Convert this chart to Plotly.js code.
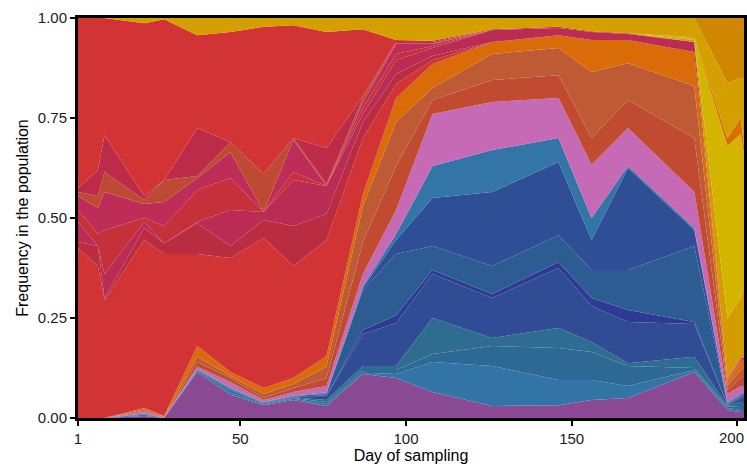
<!DOCTYPE html>
<html>
<head>
<meta charset="utf-8">
<script src="https://cdn.plot.ly/plotly-3.0.1.min.js"></script>
<style>html,body{margin:0;padding:0;background:#fff}#chart{width:747px;height:468px}</style>
</head>
<body>
<div id="chart"></div>
<script>
// Sampling days
const days = [1,7,9,21,27,37,47,57,66,76,87,97,108,126,146,156,167,187,197,201,202];
// Axis ticks
const xTicks = [1, 50, 100, 150, 200];
const xTickText = ['1', '50', '100', '150', ''];
const lastTickLabel = '200';
const yTicks = [0, 0.25, 0.5, 0.75, 1];

// Upper boundaries (cumulative frequency) of each lineage band, bottom to top
const purple      = [0,0,0,0.005,0,0.115,0.058,0.032,0.045,0.03,0.11,0.10,0.065,0.03,0.032,0.045,0.05,0.115,0.02,0.015,0.015];
const lightBlueA  = [0,0,0,0.008,0,0.118,0.064,0.034,0.048,0.035,0.113,0.11,0.14,0.13,0.095,0.095,0.08,0.12,0.025,0.02,0.02];
const tealBlue    = [0,0,0,0.009,0,0.12,0.07,0.036,0.05,0.04,0.12,0.12,0.16,0.18,0.175,0.165,0.13,0.125,0.028,0.03,0.03];
const teal        = [0,0,0,0.01,0,0.121,0.072,0.037,0.052,0.045,0.13,0.13,0.25,0.20,0.225,0.19,0.137,0.153,0.03,0.04,0.04];
const darkBlueA   = [0,0,0,0.011,0,0.122,0.074,0.038,0.054,0.055,0.21,0.237,0.36,0.30,0.375,0.28,0.24,0.235,0.032,0.05,0.05];
const indigo      = [0,0,0,0.011,0,0.122,0.074,0.038,0.054,0.056,0.22,0.257,0.37,0.31,0.39,0.30,0.27,0.24,0.033,0.052,0.052];
const midBlue     = [0,0,0,0.011,0,0.122,0.075,0.039,0.055,0.06,0.32,0.41,0.43,0.38,0.457,0.37,0.37,0.43,0.035,0.055,0.055];
const darkBlueB   = [0,0,0,0.011,0,0.122,0.075,0.039,0.055,0.062,0.325,0.445,0.55,0.565,0.64,0.445,0.625,0.47,0.037,0.057,0.057];
const lightBlueB  = [0,0,0,0.011,0,0.123,0.076,0.04,0.056,0.064,0.33,0.46,0.63,0.67,0.70,0.50,0.63,0.475,0.04,0.06,0.06];
const pink        = [0,0,0,0.016,0.002,0.128,0.09,0.045,0.065,0.08,0.36,0.52,0.76,0.79,0.80,0.633,0.725,0.565,0.06,0.08,0.08];
const redOrange   = [0,0,0,0.018,0.003,0.14,0.10,0.05,0.075,0.10,0.44,0.63,0.795,0.845,0.857,0.70,0.795,0.70,0.07,0.10,0.10];
const brown       = [0,0,0,0.021,0.004,0.153,0.105,0.06,0.085,0.128,0.53,0.74,0.825,0.91,0.925,0.865,0.887,0.83,0.08,0.12,0.12];
const orange      = [0,0,0,0.025,0.005,0.18,0.115,0.075,0.10,0.155,0.56,0.80,0.885,0.94,0.957,0.945,0.945,0.915,0.09,0.14,0.14];
const redLow      = [0.425,0.38,0.295,0.445,0.41,0.41,0.40,0.45,0.38,0.445,0.70,0.835,0.895,0.94,0.957,0.945,0.945,0.915,0.092,0.142,0.142];
const crimsonA    = [0.44,0.43,0.30,0.475,0.437,0.487,0.43,0.495,0.48,0.51,0.74,0.86,0.905,0.94,0.957,0.945,0.945,0.915,0.093,0.143,0.143];
const magentaA    = [0.49,0.43,0.36,0.49,0.437,0.49,0.52,0.515,0.595,0.58,0.76,0.895,0.925,0.97,0.975,0.965,0.96,0.94,0.095,0.147,0.147];
const redMid      = [0.52,0.46,0.47,0.50,0.48,0.57,0.60,0.515,0.615,0.58,0.775,0.91,0.93,0.97,0.975,0.965,0.96,0.94,0.096,0.15,0.15];
const magentaB    = [0.555,0.525,0.565,0.535,0.54,0.60,0.665,0.515,0.695,0.58,0.79,0.935,0.935,0.97,0.975,0.965,0.96,0.94,0.097,0.15,0.15];
const brownRed    = [0.565,0.555,0.615,0.545,0.595,0.605,0.69,0.61,0.70,0.585,0.80,0.937,0.937,0.97,0.975,0.965,0.96,0.94,0.097,0.15,0.15];
const crimsonB    = [0.575,0.62,0.707,0.555,0.595,0.725,0.69,0.61,0.70,0.675,0.805,0.94,0.94,0.97,0.975,0.965,0.96,0.94,0.097,0.15,0.15];
const redHigh     = [1,1,1,0.987,0.997,0.957,0.965,0.978,0.982,0.965,0.972,0.945,0.943,0.972,0.978,0.967,0.962,0.94,0.10,0.15,0.15];
const goldA       = [1,1,1,0.987,0.997,0.957,0.965,0.978,0.982,0.965,0.972,0.945,0.943,0.972,0.978,0.967,0.962,0.945,0.25,0.30,0.33];
const yellow      = [1,1,1,0.987,0.997,0.957,0.965,0.978,0.982,0.965,0.972,0.945,0.943,0.972,0.978,0.967,0.962,0.95,0.68,0.71,0.66];
const orangeLate  = [1,1,1,0.987,0.997,0.957,0.965,0.978,0.982,0.965,0.972,0.945,0.943,0.972,0.978,0.967,0.962,0.952,0.70,0.75,0.68];
const goldB       = [1,1,1,1,1,1,1,1,1,1,1,1,1,1,1,1,1,1,0.837,0.85,0.85];
const amber       = [1,1,1,1,1,1,1,1,1,1,1,1,1,1,1,1,1,1,1,1,1];

const layers = [
  [purple,'#8A4A93'],[lightBlueA,'#3374A7'],[tealBlue,'#2E6996'],[teal,'#2E6D8F'],
  [darkBlueA,'#2F4C95'],[indigo,'#2E3B94'],[midBlue,'#2D5C93'],[darkBlueB,'#2E4E95'],
  [lightBlueB,'#3375A6'],[pink,'#C66AB6'],[redOrange,'#C04B30'],[brown,'#BE5B34'],
  [orange,'#D96B08'],[redLow,'#D23334'],[crimsonA,'#BA2C40'],[magentaA,'#BB2C55'],
  [redMid,'#C5303A'],[magentaB,'#BD2D58'],[brownRed,'#BE4A33'],[crimsonB,'#BC2C48'],
  [redHigh,'#D23334'],[goldA,'#D49C00'],[yellow,'#D3B500'],[orangeLate,'#DB6E00'],
  [goldB,'#D4A000'],[amber,'#CF8600']
];

let prev = null;
const traces = layers.map(([vals, col], i) => {
  const y = prev ? vals.map((v, k) => Math.max(v, prev[k])) : vals.slice();
  prev = y;
  return {
    x: days, y: y, type: 'scatter', mode: 'lines',
    line: {width: 0, color: col},
    fill: i === 0 ? 'tozeroy' : 'tonexty',
    fillcolor: col, hoverinfo: 'skip', showlegend: false
  };
});

const fam = 'Liberation Sans, Arial, Helvetica, sans-serif';
const axisFont = {family: fam, size: 15, color: '#1a1a1a'};
const titleFont = {family: fam, size: 16, color: '#000'};
const layout = {
  width: 747, height: 468,
  margin: {l: 78, r: 3, t: 18, b: 50},
  paper_bgcolor: '#ffffff', plot_bgcolor: '#ffffff',
  xaxis: {
    range: [1, 202], tickvals: xTicks, ticktext: xTickText,
    showline: true, mirror: true, linewidth: 3, linecolor: '#000',
    ticks: 'outside', ticklen: 5, tickwidth: 2, tickcolor: '#000',
    showgrid: false, zeroline: false, tickfont: axisFont,
    ticklabeloverflow: 'allow', automargin: false,
    title: {text: 'Day of sampling', font: titleFont, standoff: 4}
  },
  yaxis: {
    range: [0, 1], tickvals: yTicks, tickformat: '.2f',
    showline: true, mirror: true, linewidth: 3, linecolor: '#000',
    ticks: 'outside', ticklen: 5, tickwidth: 2, tickcolor: '#000',
    showgrid: false, zeroline: false, tickfont: axisFont, automargin: false,
    title: {text: 'Frequency in the population', font: titleFont, standoff: 6}
  },
  annotations: [{
    text: lastTickLabel, xref: 'paper', yref: 'paper', x: 1, y: 0,
    xanchor: 'right', yanchor: 'top', xshift: 2, yshift: -9, showarrow: false,
    font: axisFont
  }]
};

Plotly.newPlot('chart', traces, layout, {displayModeBar: false, staticPlot: true});
</script>
</body>
</html>
